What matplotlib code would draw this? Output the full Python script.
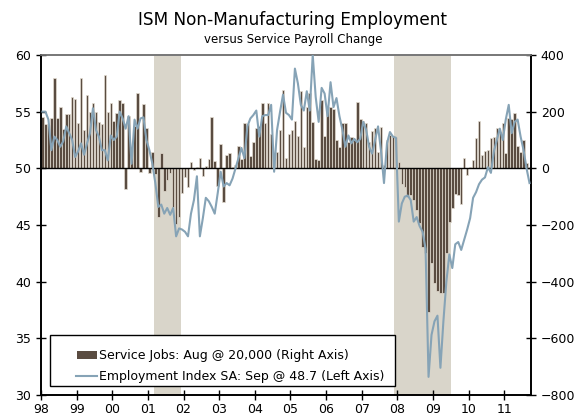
import numpy as np
import matplotlib
matplotlib.use("Agg")
import matplotlib.pyplot as plt
from matplotlib.patches import Rectangle

# service jobs, monthly change in thousands (right axis), Jan 1998 - Aug 2011
service_jobs = [
    182, 155, 153, 176, 318, 176, 218, 139, 190, 190, 250, 246,
    161, 318, 135, 259, 200, 229, 200, 164, 155, 329, 200, 229,
    167, 194, 241, 232, -74, 185, 65, 150, 267, -14, 226, 141,
    -15, 56, -20, -173, 53, -80, -41, -18, -138, -196, -173, -86,
    -29, -65, 24, -5, 6, 35, -27, 8, 33, 180, 26, -62,
    85, -118, 47, 53, 5, 10, 79, 32, 161, 156, 44, 94,
    141, 150, 232, 160, 232, 120, 25, 59, 135, 276, 35, 121,
    135, 168, 114, 273, 76, 218, 265, 165, 34, 29, 241, 114,
    215, 215, 208, 100, 76, 161, 161, 94, 109, 100, 235, 174,
    168, 159, 94, 130, 141, 59, 147, 10, 100, 118, 114, 109,
    24, -55, -67, -100, -94, -112, -147, -192, -276, -300, -506, -335,
    -406, -432, -441, -441, -300, -190, -140, -90, -95, -125, 35, -24,
    6, 29, 108, 167, 47, 60, 65, 106, 112, 141, 129, 161,
    53, 179, 173, 196, 79, 59, 100, 18,
]

# ISM non-manufacturing employment index SA (left axis), Jan 1998 - Sep 2011
emp_index = [
    55.0, 55.0, 54.3, 51.6, 52.8, 52.5, 51.9, 52.4, 53.7, 53.1, 52.5, 51.0,
    51.5, 52.2, 51.2, 52.2, 53.1, 55.3, 53.4, 52.8, 51.6, 51.6, 50.7, 52.9,
    52.5, 52.8, 55.0, 54.4, 53.5, 54.6, 50.4, 54.3, 53.5, 54.4, 54.5, 52.5,
    51.6, 50.4, 48.7, 46.6, 46.8, 46.0, 46.5, 45.9, 46.5, 44.0, 44.7, 44.6,
    44.4, 44.0, 46.0, 47.2, 49.3, 44.0, 45.6, 47.4, 47.1, 46.6, 46.0, 47.8,
    49.7, 48.4, 48.7, 48.5, 49.1, 50.0, 50.9, 51.8, 50.9, 53.7, 54.4, 54.7,
    55.1, 52.8, 54.6, 54.7, 54.7, 55.6, 49.7, 53.4, 55.0, 56.5, 54.9, 54.7,
    54.3, 58.8, 57.5, 55.6, 55.1, 56.8, 55.1, 60.0, 56.3, 54.1, 57.1, 56.6,
    54.6, 57.6, 55.4, 56.2, 54.6, 53.4, 51.9, 52.9, 52.2, 52.6, 52.3, 52.6,
    54.1, 53.4, 51.9, 51.3, 52.5, 53.7, 51.5, 48.7, 52.2, 53.2, 52.8, 52.7,
    45.3, 46.9, 47.5, 47.6, 47.2, 45.3, 45.7, 44.9, 44.4, 42.9, 31.6, 35.3,
    36.5, 37.0, 32.4, 36.5, 40.0, 42.4, 41.2, 43.3, 43.5, 42.8, 43.7, 44.6,
    45.6, 47.4, 47.9, 48.6, 49.0, 49.2, 50.1, 49.6, 51.5, 52.5, 53.5, 52.5,
    54.3, 55.6, 53.1, 54.1, 54.3, 52.8, 51.6, 50.0, 48.7,
]

recessions = [(2001 + 2 / 12, 2001 + 11 / 12), (2007 + 11 / 12, 2009 + 6 / 12)]
year_labels = ["98", "99", "00", "01", "02", "03", "04", "05", "06", "07", "08", "09", "10", "11"]
legend_labels = ["Service Jobs: Aug @ 20,000 (Right Axis)",
                 "Employment Index SA: Sep @ 48.7 (Left Axis)"]

bar_color = "#5a4c41"
line_color = "#86a3b6"
shade_color = "#d9d5ca"

W, H = 586, 419

bar_x = 1998 + (np.arange(len(service_jobs)) + 0.5) / 12
line_x = 1998 + (np.arange(len(emp_index)) + 0.5) / 12

fig = plt.figure(figsize=(W / 100, H / 100), dpi=100)
ax = fig.add_axes([41 / W, 24 / H, 490 / W, 340 / H])
ax2 = ax.twinx()

ax.set_zorder(ax2.get_zorder() + 1)
ax.patch.set_visible(False)

for start, end in recessions:
    ax2.axvspan(start, end, color=shade_color, lw=0, zorder=0)

ax2.bar(bar_x, service_jobs, width=0.85 / 12, color=bar_color,
        edgecolor="#e4ddd2", linewidth=0.5, zorder=2)
ax2.axhline(0, color="black", lw=1.0, zorder=3)

ax.plot(line_x, emp_index, color=line_color, lw=1.5, zorder=4)

ax.set_xlim(1998, 1998 + 165 / 12)
ax.set_ylim(30, 60)
ax2.set_ylim(-800, 400)
ax.set_yticks(range(30, 61, 5))
ax2.set_yticks(range(-800, 401, 200))
ax.set_xticks(range(1998, 2012))
ax.set_xticklabels(year_labels)

for a in (ax, ax2):
    a.tick_params(direction="inout", length=7, width=1, labelsize=9, colors="black")
    a.spines["top"].set_color("#777777")
    a.spines["top"].set_linewidth(1.2)
    for s in ("left", "right", "bottom"):
        a.spines[s].set_linewidth(1.2)
ax.tick_params(axis="x", pad=2)

fig.text(0.5, 1 - 20 / H, "ISM Non-Manufacturing Employment", ha="center", va="center", fontsize=12.2)
fig.text(0.5, 1 - 40 / H, "versus Service Payroll Change", ha="center", va="center", fontsize=8.5)

# legend box drawn by hand to match the reference padding
def fx(px):
    return px / W

def fy(py):
    return 1 - py / H

fig.patches.append(Rectangle((fx(50), fy(386)), fx(395) - fx(50), fy(335) - fy(386),
                             transform=fig.transFigure, facecolor="white",
                             edgecolor="black", lw=1.0, zorder=10))
fig.patches.append(Rectangle((fx(77), fy(359)), fx(97) - fx(77), fy(351) - fy(359),
                             transform=fig.transFigure, facecolor=bar_color,
                             edgecolor="none", zorder=11))
fig.lines.append(plt.Line2D([fx(76), fx(97)], [fy(376), fy(376)], transform=fig.transFigure,
                            color=line_color, lw=1.5, zorder=11))
fig.text(fx(99), fy(355), legend_labels[0], ha="left", va="center", fontsize=9, zorder=12)
fig.text(fx(99), fy(376), legend_labels[1], ha="left", va="center", fontsize=9, zorder=12)

fig.savefig("out.png", dpi=100)
